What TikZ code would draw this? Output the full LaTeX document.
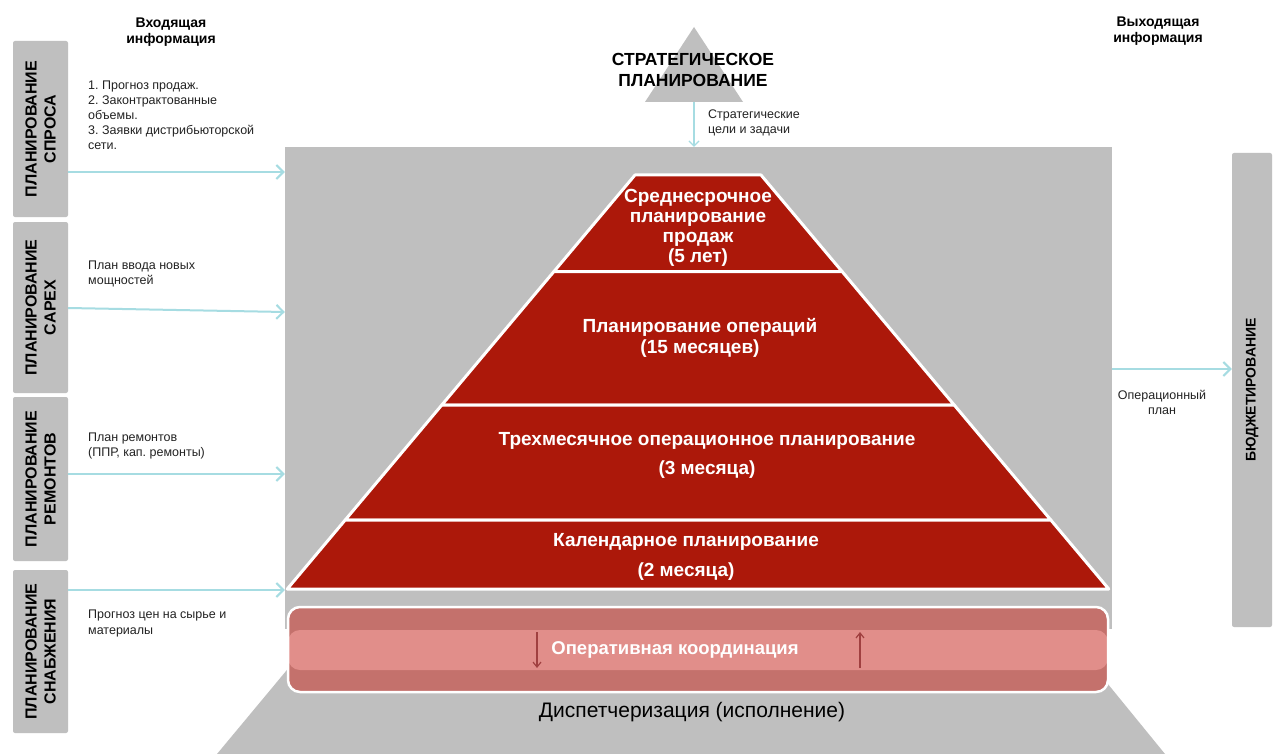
\documentclass[tikz,border=0pt]{standalone}
\usepackage{fontspec}
\setmainfont{Liberation Sans}
\usetikzlibrary{arrows.meta,calc}
\definecolor{pgray}{RGB}{191,191,191}
\definecolor{pred}{RGB}{172,24,10}
\definecolor{bandd}{RGB}{196,113,108}
\definecolor{bandl}{RGB}{225,142,138}
\definecolor{lcyan}{RGB}{166,220,226}
\definecolor{carrow}{RGB}{160,64,64}
\definecolor{txt}{RGB}{35,35,35}
\newcommand\myfs[2]{\fontsize{#1}{#2}\selectfont}
\frenchspacing
\begin{document}
\begin{tikzpicture}[x=1pt,y=-1pt,
  sidebox/.style={fill=pgray, rounded corners=2pt, minimum height=55pt, inner sep=0pt,
    rotate=90, align=center, font=\bfseries\myfs{16}{19}, text=black},
  smalltxt/.style={anchor=north west, inner sep=0pt, align=left, font=\myfs{12.5}{15}, text=txt},
  hdr/.style={align=center, inner sep=0pt, font=\bfseries\myfs{14}{16}, text=black},
  layer/.style={fill=pred, draw=white, line width=3pt, line join=round},
  laytxt/.style={align=center, inner sep=0pt, text=white, font=\bfseries\myfs{19}{20}},
  inarrow/.style={draw=lcyan, line width=2pt, -{Straight Barb[length=7pt,width=14pt]}},
  thinarrow/.style={draw=lcyan, line width=1.2pt, -{Straight Barb[length=5pt,width=10pt]}},
  coarrow/.style={draw=carrow, line width=1.2pt, -{Straight Barb[length=5pt,width=8pt]}}
]
\useasboundingbox (0,0) rectangle (1273,754);
\fill[white] (0,0) rectangle (1273,754);

% headers
\node[hdr] (inhdr) at (171,32) {Входящая\\информация};
\node[hdr] (outhdr) at (1158,31.5) {Выходящая\\информация};

% strategic triangle
\fill[pgray] (694,27) -- (743,102) -- (645,102) -- cycle;
\node[align=center, inner sep=0pt, font=\bfseries\myfs{17.5}{21}, text=black] (strat) at (693,70) {СТРАТЕГИЧЕСКОЕ\\ПЛАНИРОВАНИЕ};
\coordinate (tribase) at (694,102);

% big gray area
\node[fill=pgray, minimum width=827pt, minimum height=482pt, inner sep=0pt] (ops) at (698.5,388) {};
\fill[pgray] (321,629) -- (1063,629) -- (1165,754) -- (217,754) -- cycle;

% pyramid layers
\path[layer] (635,175) -- (761,175) -- (842.06,271.5) -- (553.94,271.5) -- cycle;
\path[layer] (553.94,271.5) -- (842.06,271.5) -- (954.2,405) -- (441.8,405) -- cycle;
\path[layer] (441.8,405) -- (954.2,405) -- (1050.8,520) -- (345.2,520) -- cycle;
\path[layer] (345.2,520) -- (1050.8,520) -- (1108.76,589) -- (287.24,589) -- cycle;
\node[laytxt] (l1) at (698,228) {Среднесрочное\\планирование\\продаж\\(5 лет)};
\node[laytxt, font=\bfseries\myfs{19}{21}] (l2) at (700,338) {Планирование операций\\(15 месяцев)};
\node[laytxt, font=\bfseries\myfs{19}{29}] (l3) at (707,455) {Трехмесячное операционное планирование\\(3 месяца)};
\node[laytxt, font=\bfseries\myfs{19}{30}] (l4) at (686,557) {Календарное планирование\\(2 месяца)};

% operative coordination
\node[draw=white, line width=2.5pt, rounded corners=12pt, minimum width=820pt, minimum height=85pt, inner sep=0pt,
  fill=bandd,
  path picture={\fill[bandl] ([yshift=-23pt]path picture bounding box.north west) rectangle ([yshift=22pt]path picture bounding box.south east);}]
  (coord) at (698,649.5) {};
\node[text=white, inner sep=0pt, font=\bfseries\myfs{18.5}{20}] (optxt) at (675,650) {Оперативная координация};
\coordinate (dnA) at (537,632);
\coordinate (dnB) at (537,668);
\coordinate (upA) at (860,668);
\coordinate (upB) at (860,632);
\draw[coarrow] (dnA) -- (dnB);
\draw[coarrow] (upA) -- (upB);
\node[text=black, inner sep=0pt, font=\myfs{21}{23}] (disp) at (692,712) {Диспетчеризация (исполнение)};

% left boxes
\node[sidebox, minimum width=176pt] (box1) at (40.5,129) {ПЛАНИРОВАНИЕ\\СПРОСА};
\node[sidebox, minimum width=171pt] (box2) at (40.5,307.5) {ПЛАНИРОВАНИЕ\\CAPEX};
\node[sidebox, minimum width=164pt] (box3) at (40.5,479) {ПЛАНИРОВАНИЕ\\РЕМОНТОВ};
\node[sidebox, minimum width=163pt] (box4) at (40.5,651.5) {ПЛАНИРОВАНИЕ\\СНАБЖЕНИЯ};

% right box
\node[fill=pgray, rounded corners=2pt, minimum width=474pt, minimum height=40pt, inner sep=0pt, rotate=90,
  font=\bfseries\myfs{14}{16}, text=black] (bud) at (1252,390) {БЮДЖЕТИРОВАНИЕ};

% small texts
\node[smalltxt] (t1) at (88,81) {1. Прогноз продаж.\\2. Законтрактованные\\объемы.\\3. Заявки дистрибьюторской\\сети.};
\node[smalltxt] (t2) at (88,261) {План ввода новых\\мощностей};
\node[smalltxt] (t3) at (88,433) {План ремонтов\\(ППР, кап. ремонты)};
\node[smalltxt, font=\myfs{12.5}{16}] (t4) at (88,610) {Прогноз цен на сырье и\\материалы};
\node[smalltxt] (tg) at (708,110) {Стратегические\\цели и задачи};
\node[smalltxt, anchor=center, align=center] (to) at (1162,402.5) {Операционный\\план};

% connectors
\draw[inarrow] (box1.south |- 0,172) -- (ops.west |- 0,172);
\draw[inarrow] (box2.south |- 0,308) -- (ops.west |- 0,312);
\draw[inarrow] (box3.south |- 0,474) -- (ops.west |- 0,474);
\draw[inarrow] (box4.south |- 0,590) -- (ops.west |- 0,590);
\draw[inarrow] (ops.east |- 0,369) -- (bud.north |- 0,369);
\draw[thinarrow] (tribase) -- (ops.north -| tribase);
\end{tikzpicture}
\end{document}
